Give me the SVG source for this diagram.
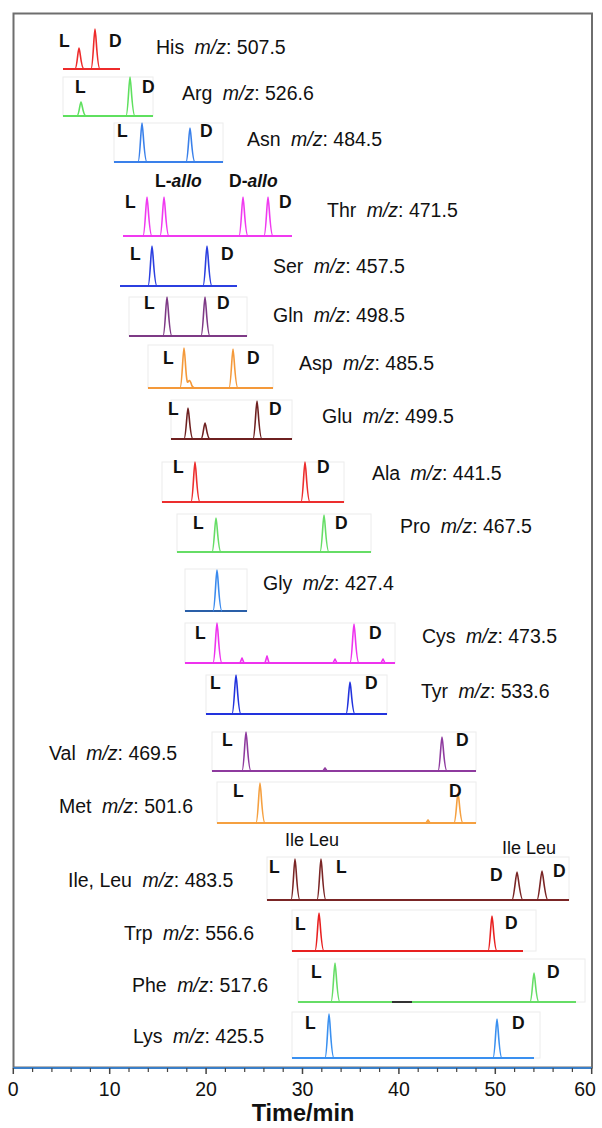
<svg xmlns="http://www.w3.org/2000/svg" width="602" height="1128" viewBox="0 0 602 1128">
<style>
text{font-family:"Liberation Sans",Arial,sans-serif;fill:#111}
.lab{font-size:19.5px}
.i{font-style:italic}
.ld{font-size:17.5px;font-weight:bold}
.il{font-size:18px}
.tk{font-size:19.5px;text-anchor:middle}
.ttl{font-size:23.5px;font-weight:bold;text-anchor:middle}
.box{fill:none;stroke:#ececec;stroke-width:1}
.tr{fill:none;stroke-width:2;stroke-linejoin:round}
.pk{fill:none;stroke-width:1.6;stroke-linejoin:round}
</style>
<rect x="13.5" y="13.5" width="578.5" height="1054" fill="none" stroke="#6e6e6e" stroke-width="2"/>

<g id="his" stroke="#ee2b2b">
<path class="tr" d="M63,69H120"/>
<path class="pk" d="M75,69C77,69 78,48 79,48C80,48 81,69 84,69M91,69C93,69 94,29 95,29C96,29 97,69 100,69"/>
<text class="ld" x="59" y="47" stroke="none">L</text><text class="ld" x="109" y="47" stroke="none">D</text>
<text class="lab" x="156" y="54" stroke="none">His <tspan class="i" dx="5">m/z</tspan>: 507.5</text>
</g>

<g id="arg" stroke="#5fe05f">
<rect class="box" x="63" y="77" width="90" height="39"/>
<path class="tr" d="M63,116H153"/>
<path class="pk" d="M77,116C79,116 80,102 81,102C82,102 83,116 86,116M126,116C128,116 129,77 130,77C131,77 132,116 135,116"/>
<text class="ld" x="75" y="93" stroke="none">L</text><text class="ld" x="142" y="93" stroke="none">D</text>
<text class="lab" x="182" y="100" stroke="none">Arg <tspan class="i" dx="5">m/z</tspan>: 526.6</text>
</g>

<g id="asn" stroke="#3a80ea">
<rect class="box" x="114" y="123" width="109" height="39"/>
<path class="tr" d="M114,162H223"/>
<path class="pk" d="M138,162C140,162 141,123 142,123C143,123 144,162 147,162M186,162C188,162 189,128 190,128C191,128 192,162 195,162"/>
<text class="ld" x="117" y="137" stroke="none">L</text><text class="ld" x="200" y="137" stroke="none">D</text>
<text class="lab" x="247" y="146" stroke="none">Asn <tspan class="i" dx="5">m/z</tspan>: 484.5</text>
</g>

<g id="thr" stroke="#f03af0">
<path class="tr" d="M123,236H292"/>
<path class="pk" d="M143,236C145,236 146,197 147,197C148,197 149,236 152,236M160,236C162,236 163,197 164,197C165,197 166,236 169,236M239,236C241,236 242,197 243,197C244,197 245,236 248,236M264,236C266,236 267,197 268,197C269,197 270,236 273,236"/>
<text class="ld" x="125" y="208" stroke="none">L</text><text class="ld" x="279" y="208" stroke="none">D</text>
<text class="ld" x="155" y="187" stroke="none">L-<tspan class="i">allo</tspan></text>
<text class="ld" x="229" y="187" stroke="none">D-<tspan class="i">allo</tspan></text>
<text class="lab" x="327" y="217" stroke="none">Thr <tspan class="i" dx="5">m/z</tspan>: 471.5</text>
</g>

<g id="ser" stroke="#2b3fe0">
<path class="tr" d="M120,286H237"/>
<path class="pk" d="M148,286C150,286 151,246 152,246C153,246 154,286 157,286M203,286C205,286 206,246 207,246C208,246 209,286 212,286"/>
<text class="ld" x="130" y="260" stroke="none">L</text><text class="ld" x="221" y="260" stroke="none">D</text>
<text class="lab" x="273" y="273" stroke="none">Ser <tspan class="i" dx="5">m/z</tspan>: 457.5</text>
</g>

<g id="gln" stroke="#7e3a86">
<rect class="box" x="129" y="297" width="118" height="39"/>
<path class="tr" d="M129,336H247"/>
<path class="pk" d="M163,336C165,336 166,297 167,297C168,297 169,336 172,336M201,336C203,336 204,297 205,297C206,297 207,336 210,336"/>
<text class="ld" x="144" y="309" stroke="none">L</text><text class="ld" x="217" y="309" stroke="none">D</text>
<text class="lab" x="273" y="322" stroke="none">Gln <tspan class="i" dx="5">m/z</tspan>: 498.5</text>
</g>

<g id="asp" stroke="#f4993a">
<rect class="box" x="148" y="345" width="125" height="43"/>
<path class="tr" d="M148,388H273"/>
<path class="pk" d="M180,388C182,388 183,348 184,348C185,348 186,386 188,382C189,380 190,380 191,383C192,387 193,388 195,388M229,388C231,388 232,349 233,349C234,349 235,388 238,388"/>
<text class="ld" x="163" y="364" stroke="none">L</text><text class="ld" x="247" y="364" stroke="none">D</text>
<text class="lab" x="299" y="370" stroke="none">Asp <tspan class="i" dx="5">m/z</tspan>: 485.5</text>
</g>

<g id="glu" stroke="#6e2020">
<rect class="box" x="171" y="400" width="121" height="39"/>
<path class="tr" d="M171,439H292"/>
<path class="pk" d="M184,439C186,439 187,408 188,408C189,408 190,439 193,439M201,439C203,439 204,423 205,423C206,423 207,439 210,439M253,439C255,439 256,401 257,401C258,401 259,439 262,439"/>
<text class="ld" x="168" y="415" stroke="none">L</text><text class="ld" x="269" y="415" stroke="none">D</text>
<text class="lab" x="322" y="423" stroke="none">Glu <tspan class="i" dx="5">m/z</tspan>: 499.5</text>
</g>

<g id="ala" stroke="#ec2e2e">
<rect class="box" x="162" y="462" width="182" height="40"/>
<path class="tr" d="M162,502H344"/>
<path class="pk" d="M191,502C193,502 194,462 195,462C196,462 197,502 200,502M301,502C303,502 304,462 305,462C306,462 307,502 310,502"/>
<text class="ld" x="173" y="473" stroke="none">L</text><text class="ld" x="317" y="473" stroke="none">D</text>
<text class="lab" x="372" y="480" stroke="none">Ala <tspan class="i" dx="5">m/z</tspan>: 441.5</text>
</g>

<g id="pro" stroke="#66dd66">
<rect class="box" x="177" y="514" width="194" height="38"/>
<path class="tr" d="M177,552H371"/>
<path class="pk" d="M212,552C214,552 215,518 216,518C217,518 218,552 221,552M320,552C322,552 323,515 324,515C325,515 326,552 329,552"/>
<text class="ld" x="193" y="529" stroke="none">L</text><text class="ld" x="335" y="529" stroke="none">D</text>
<text class="lab" x="400" y="533" stroke="none">Pro <tspan class="i" dx="5">m/z</tspan>: 467.5</text>
</g>

<g id="gly" stroke="#3a8aee">
<rect class="box" x="185" y="569" width="62" height="42"/>
<path class="tr" d="M185,611H247" stroke="#2a5fa8"/>
<path class="pk" d="M213,611C215,611 216,570 217,570C218,570 219,611 222,611"/>
<text class="lab" x="263" y="590" stroke="none">Gly <tspan class="i" dx="5">m/z</tspan>: 427.4</text>
</g>

<g id="cys" stroke="#ee33ee">
<rect class="box" x="185" y="623" width="210" height="40"/>
<path class="tr" d="M185,663H395"/>
<path class="pk" d="M213,663C215,663 216,623 217,623C218,623 219,663 222,663M240,663L242,658L244,663M265,663L267,656L269,663M333,663L335,659L337,663M350,663C352,663 353,624 354,624C355,624 356,663 359,663M381,663L383,659L385,663"/>
<text class="ld" x="195" y="639" stroke="none">L</text><text class="ld" x="369" y="639" stroke="none">D</text>
<text class="lab" x="422" y="643" stroke="none">Cys <tspan class="i" dx="5">m/z</tspan>: 473.5</text>
</g>

<g id="tyr" stroke="#2233dd">
<rect class="box" x="206" y="675" width="181" height="39"/>
<path class="tr" d="M206,714H387"/>
<path class="pk" d="M232,714C234,714 235,675 236,675C237,675 238,714 241,714M346,714C348,714 349,682 350,682C351,682 352,714 355,714"/>
<text class="ld" x="210" y="689" stroke="none">L</text><text class="ld" x="365" y="689" stroke="none">D</text>
<text class="lab" x="421" y="698" stroke="none">Tyr <tspan class="i" dx="5">m/z</tspan>: 533.6</text>
</g>

<g id="val" stroke="#8e3a9e">
<rect class="box" x="212" y="732" width="264" height="39"/>
<path class="tr" d="M212,771H476"/>
<path class="pk" d="M242,771C244,771 245,732 246,732C247,732 248,771 251,771M323,771L325,768L327,771M438,771C440,771 441,737 442,737C443,737 444,771 447,771"/>
<text class="ld" x="222" y="746" stroke="none">L</text><text class="ld" x="456" y="746" stroke="none">D</text>
<text class="lab" x="49" y="760" stroke="none">Val <tspan class="i" dx="5">m/z</tspan>: 469.5</text>
</g>

<g id="met" stroke="#f5a040">
<rect class="box" x="217" y="782" width="259" height="41"/>
<path class="tr" d="M217,823H476"/>
<path class="pk" d="M256,823C258,823 259,783 260,783C261,783 262,823 265,823M426,823L428,820L430,823M454,823C456,823 457,793 458,793C459,793 460,823 463,823"/>
<text class="ld" x="233" y="797" stroke="none">L</text><text class="ld" x="449" y="797" stroke="none">D</text>
<text class="lab" x="59" y="813" stroke="none">Met <tspan class="i" dx="5">m/z</tspan>: 501.6</text>
</g>

<g id="ileleu" stroke="#7a2525">
<rect class="box" x="267" y="857" width="302" height="43"/>
<path class="tr" d="M267,900H569"/>
<path class="pk" d="M291,900C293,900 294,859 295,859C296,859 297,900 300,900M317,900C319,900 320,859 321,859C322,859 323,900 326,900M512,900C514,900 516,872 517,872C518,872 520,900 523,900M537,900C539,900 541,871 542,871C543,871 545,900 548,900"/>
<text class="ld" x="269" y="873" stroke="none">L</text><text class="ld" x="336" y="873" stroke="none">L</text>
<text class="ld" x="490" y="881" stroke="none">D</text><text class="ld" x="553" y="877" stroke="none">D</text>
<text class="il" x="285" y="846" stroke="none">Ile Leu</text>
<text class="il" x="502" y="854" stroke="none">Ile Leu</text>
<text class="lab" x="68" y="887" stroke="none">Ile, Leu <tspan class="i" dx="5">m/z</tspan>: 483.5</text>
</g>

<g id="trp" stroke="#e82020">
<rect class="box" x="292" y="910" width="244" height="41"/>
<path class="tr" d="M292,951H523"/>
<path class="pk" d="M315,951C317,951 318,913 319,913C320,913 321,951 324,951M488,951C490,951 491,916 492,916C493,916 494,951 497,951"/>
<text class="ld" x="295" y="930" stroke="none">L</text><text class="ld" x="505" y="929" stroke="none">D</text>
<text class="lab" x="124" y="940" stroke="none">Trp <tspan class="i" dx="5">m/z</tspan>: 556.6</text>
</g>

<g id="phe" stroke="#66dd66">
<rect class="box" x="298" y="959" width="287" height="43"/>
<path class="tr" d="M298,1002H576"/>
<path class="pk" d="M331,1002C333,1002 334,963 335,963C336,963 337,1002 340,1002M530,1002C532,1002 533,973 534,973C535,973 536,1002 539,1002"/>
<path d="M392,1002H412" stroke="#333" stroke-width="2"/>
<text class="ld" x="311" y="978" stroke="none">L</text><text class="ld" x="547" y="978" stroke="none">D</text>
<text class="lab" x="132" y="992" stroke="none">Phe <tspan class="i" dx="5">m/z</tspan>: 517.6</text>
</g>

<g id="lys" stroke="#3a90f0">
<rect class="box" x="292" y="1012" width="248" height="46"/>
<path class="tr" d="M292,1058H534"/>
<path class="pk" d="M325,1058C327,1058 328,1014 329,1014C330,1014 331,1058 334,1058M493,1058C495,1058 496,1019 497,1019C498,1019 499,1058 502,1058"/>
<text class="ld" x="305" y="1029" stroke="none">L</text><text class="ld" x="512" y="1029" stroke="none">D</text>
<text class="lab" x="133" y="1043" stroke="none">Lys <tspan class="i" dx="5">m/z</tspan>: 425.5</text>
</g>

<g id="axis">
<path d="M13,1068H592" stroke="#3a7fc8" stroke-width="2.2"/>
<path d="M13.3,1068v6M109.7,1068v6M206.1,1068v6M302.5,1068v6M398.9,1068v6M495.3,1068v6M591.7,1068v6" stroke="#444" stroke-width="1.5"/>
<path d="M32.6,1068v4M51.9,1068v4M71.1,1068v4M90.4,1068v4M129,1068v4M148.3,1068v4M167.5,1068v4M186.8,1068v4M225.4,1068v4M244.7,1068v4M263.9,1068v4M283.2,1068v4M321.8,1068v4M341.1,1068v4M360.3,1068v4M379.6,1068v4M418.2,1068v4M437.5,1068v4M456.7,1068v4M476,1068v4M514.6,1068v4M533.9,1068v4M553.1,1068v4M572.4,1068v4" stroke="#444" stroke-width="1.2"/>
<text class="tk" x="13.3" y="1096">0</text>
<text class="tk" x="109.7" y="1096">10</text>
<text class="tk" x="206.1" y="1096">20</text>
<text class="tk" x="302.5" y="1096">30</text>
<text class="tk" x="398.9" y="1096">40</text>
<text class="tk" x="495.3" y="1096">50</text>
<text class="tk" x="585" y="1096">60</text>
<text class="ttl" x="303" y="1121">Time/min</text>
</g>
<g id="connectors"/>
</svg>
